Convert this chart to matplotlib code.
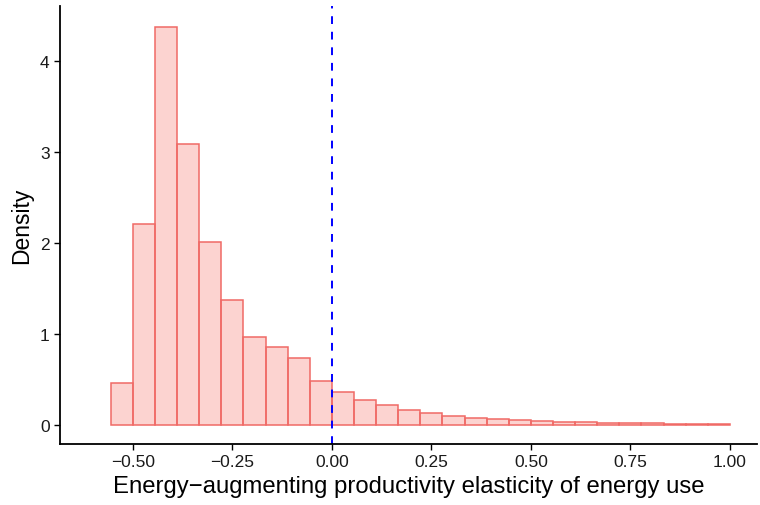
import numpy as np
import matplotlib
matplotlib.use("Agg")
import matplotlib.pyplot as plt

plt.rcParams['font.family'] = ['Liberation Sans', 'DejaVu Sans']

# Histogram: bin width 1/18, edges from -10/18 to 18/18
bin_edges = np.arange(-10, 19) / 18.0
density = [0.46, 2.21, 4.37, 3.08, 2.01, 1.37, 0.96, 0.86, 0.73, 0.48,
           0.36, 0.275, 0.22, 0.158, 0.129, 0.096, 0.074, 0.063, 0.055, 0.044,
           0.033, 0.030, 0.026, 0.019, 0.019, 0.015, 0.015, 0.012]
x_ticks = [-0.50, -0.25, 0.00, 0.25, 0.50, 0.75, 1.00]
x_ticklabels = ["\u22120.50", "\u22120.25", "0.00", "0.25", "0.50", "0.75", "1.00"]
y_ticks = [0, 1, 2, 3, 4]
vline_x = 0.0

fig = plt.figure(figsize=(7.6, 5.06), dpi=100)
ax = fig.add_axes([60/760, 61/506, 697/760, 438/506])

edge = "#F06A66"
lefts = bin_edges[:-1]
widths = np.diff(bin_edges)
ax.bar(lefts, density, width=widths, align='edge',
       facecolor=(0.973, 0.463, 0.427, 0.32), edgecolor=edge, linewidth=1.1)
ax.axvline(vline_x, color="#0000FF", linestyle=(0, (4, 4)), linewidth=1.4)

ax.set_xlim(-0.683, 1.068)
ax.set_ylim(-0.21, 4.60)
ax.set_xticks(x_ticks)
ax.set_xticklabels(x_ticklabels)
ax.set_yticks(y_ticks)
for s in ['top', 'right']:
    ax.spines[s].set_visible(False)
for s in ['left', 'bottom']:
    ax.spines[s].set_linewidth(1.3)
ax.tick_params(axis='both', direction='out', length=4.5, width=1.0,
               labelsize=12.5, colors='black', labelcolor='#1a1a1a', pad=3)
ax.set_xlabel("Energy\u2212augmenting productivity elasticity of energy use",
              fontsize=17.2, labelpad=4)
ax.set_ylabel("Density", fontsize=16.5, labelpad=5)

fig.savefig("out.png", dpi=100)
